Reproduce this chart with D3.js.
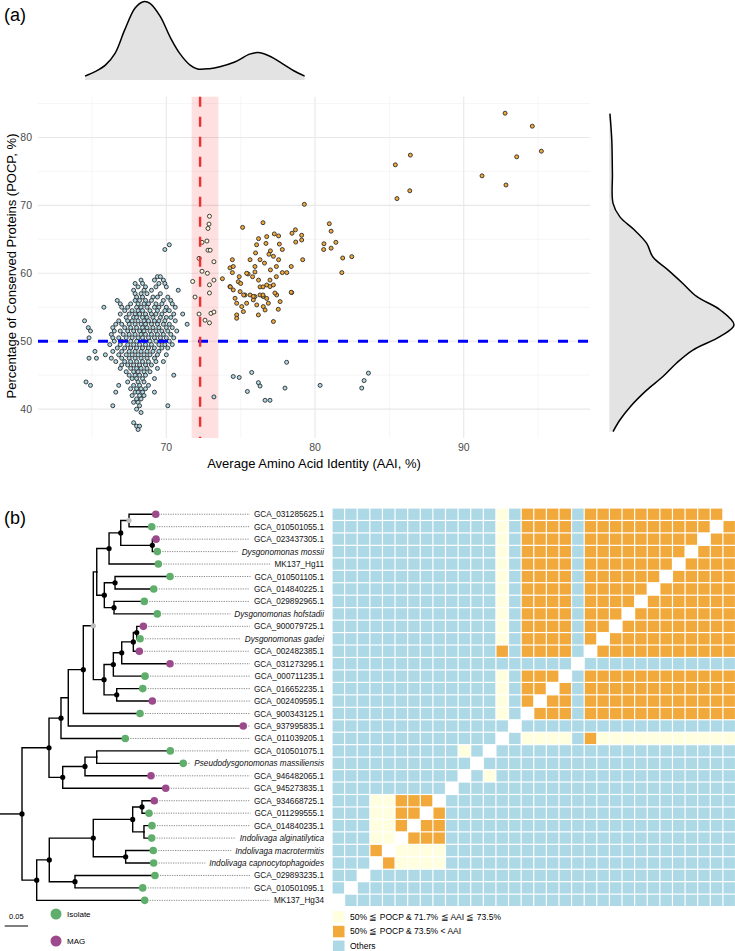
<!DOCTYPE html>
<html>
<head>
<meta charset="utf-8">
<script src="https://cdn.jsdelivr.net/npm/d3@7"></script>
<style>
  body { margin: 0; background: #fff; }
  text { font-family: "Liberation Sans", Arial, sans-serif; }
</style>
</head>
<body>
<svg id="fig" width="735" height="951"></svg>
<script>
// ---------------- data: panel (a) ----------------
// low AAI cluster, grouped by POCP level: [POCP, [AAI...]]
var lowAaiRows = [
  [64.2, [70.2]], [63.5, [69.9]],
  [59.5, [69.4, 69.6]], [59.0, [68.3, 69.2, 69.8]],
  [58.5, [67.9, 68.4, 69.5, 69.9]], [58.0, [68.1, 68.6, 69.3, 70.0]],
  [57.5, [67.8, 68.5, 69.0, 70.8]], [57.0, [67.9, 68.3, 68.7, 69.6]],
  [56.5, [68.0, 68.4, 69.1, 69.4, 70.1]], [56.0, [66.7, 67.9, 68.2, 68.6, 69.0, 69.8, 70.3]],
  [55.5, [66.9, 67.6, 68.1, 68.5, 68.8, 69.3, 69.7, 70.4]],
  [55.0, [65.8, 67.0, 67.4, 68.0, 68.3, 68.7, 69.2, 69.5, 70.0, 70.6]],
  [54.5, [67.2, 67.7, 68.1, 68.4, 68.9, 69.4, 69.9, 70.2]],
  [54.0, [66.9, 67.5, 67.9, 68.2, 68.6, 69.0, 69.3, 69.7, 70.5, 71.1]],
  [53.5, [67.3, 67.8, 68.0, 68.4, 68.7, 69.1, 69.6, 70.0, 70.3]],
  [53.0, [64.5, 66.8, 67.4, 67.7, 68.1, 68.5, 68.8, 69.2, 69.5, 69.9, 70.6]],
  [52.5, [66.6, 67.0, 67.5, 67.9, 68.3, 68.6, 69.0, 69.4, 69.8, 70.2, 71.4]],
  [52.0, [64.75, 66.4, 67.2, 67.6, 68.0, 68.4, 68.7, 69.1, 69.5, 70.0, 70.4]],
  [51.5, [64.9, 66.5, 66.9, 67.4, 67.8, 68.2, 68.5, 68.9, 69.3, 69.7, 70.1, 70.7]],
  [51.0, [66.3, 67.1, 67.5, 67.9, 68.3, 68.6, 69.0, 69.4, 69.8, 70.3]],
  [50.5, [64.8, 66.4, 66.8, 67.3, 67.7, 68.1, 68.4, 68.8, 69.2, 69.6, 70.0, 70.5]],
  [50.0, [66.5, 67.0, 67.6, 68.0, 68.5, 68.9, 69.3, 69.7, 70.2]],
  [49.5, [66.2, 66.9, 67.4, 67.8, 68.2, 68.6, 69.0, 69.5, 69.9, 70.4]],
  [49.0, [66.7, 67.2, 67.6, 68.0, 68.4, 68.8, 69.2, 69.7, 70.1]],
  [48.5, [65.2, 66.4, 67.0, 67.5, 67.9, 68.3, 68.7, 69.1, 69.5]],
  [48.0, [65.9, 66.8, 67.3, 67.7, 68.1, 68.5, 68.9, 69.4, 70.0]],
  [47.5, [64.8, 65.3, 66.3, 67.0, 67.5, 67.9, 68.3, 68.7, 69.2]],
  [47.0, [66.6, 67.2, 67.6, 68.0, 68.4, 68.8, 69.3, 69.8]],
  [46.5, [67.0, 67.4, 67.8, 68.2, 68.6, 69.0]],
  [46.0, [66.9, 67.6, 68.0, 68.3, 68.7, 69.4]],
  [45.5, [67.3, 67.8, 68.1, 68.5, 68.9]],
  [45.0, [67.5, 67.9, 68.2, 68.6, 70.5]],
  [44.5, [67.7, 68.0, 68.4, 69.2]],
  [44.0, [64.6, 67.4, 68.1, 68.5]],
  [43.5, [64.9, 66.8, 67.8, 68.2, 68.8]],
  [43.0, [67.6, 68.0, 68.3, 68.6]],
  [42.5, [66.6, 67.9, 68.1, 68.4, 69.2]],
  [42.0, [67.7, 68.2, 68.5]],
  [41.5, [68.0, 68.3]], [41.0, [67.8, 68.1]],
  [40.5, [66.4, 68.2, 70.1]], [40.0, [68.0]], [39.5, [68.3]],
  [38.0, [67.8]], [37.5, [68.0, 68.2]], [37.0, [68.1]]
];
// [AAI, POCP] pairs
var bandPts = [
  [71.77, 58.8], [71.93, 56.5], [72.2, 62.2], [72.4, 60.3], [72.4, 64.56], [72.73, 64.75],
  [72.8, 63.4], [72.95, 63.4], [72.87, 67.25], [72.8, 66.6], [72.9, 68.4], [72.76, 60.0],
  [72.9, 58.3], [72.9, 57.1], [73.2, 59.0], [73.2, 61.7], [72.2, 54.0], [72.6, 53.1],
  [72.9, 52.7], [73.0, 54.1], [73.2, 54.3], [73.2, 41.8]
];
var highAaiPts = [
  [74.28, 58.04], [74.5, 57.55], [74.84, 58.77], [75.29, 56.81], [75.63, 56.81], [75.96, 56.57],
  [76.3, 56.81], [76.52, 56.57], [76.75, 58.28], [76.97, 58.04], [77.2, 58.28], [77.42, 56.81],
  [78.43, 57.16], [74.62, 56.32], [74.73, 55.59], [75.07, 55.1], [75.4, 55.59], [75.85, 56.08],
  [76.08, 55.34], [76.52, 55.1], [76.86, 55.59], [77.65, 55.83], [74.73, 53.87], [74.73, 53.38],
  [75.18, 54.36], [76.19, 53.87], [76.64, 54.6], [77.53, 54.7], [77.2, 52.9],
  [75.13, 66.76], [76.5, 67.45], [76.2, 65.1], [76.07, 64.2], [76.75, 65.4], [76.7, 64.4],
  [77.26, 65.8], [77.55, 65.5], [77.0, 63.3], [77.2, 62.5], [77.55, 62.0], [77.8, 60.1],
  [78.1, 60.1], [78.4, 61.0], [78.4, 57.2], [78.68, 66.4], [78.45, 65.9], [79.1, 65.6],
  [79.1, 64.9], [78.7, 64.6], [79.17, 62.0], [79.28, 70.15], [80.96, 67.3], [81.08, 66.2],
  [81.4, 64.56], [80.6, 64.35], [80.58, 63.5], [81.08, 63.7], [82.47, 62.45], [81.86, 62.25],
  [81.8, 60.1], [74.44, 62.0], [74.28, 60.8], [74.5, 61.0], [74.44, 60.1], [74.3, 58.0],
  [75.63, 62.0], [75.5, 59.9], [75.4, 60.0], [74.9, 59.5], [75.8, 59.5], [75.96, 60.2],
  [75.96, 61.0], [76.3, 58.0], [76.5, 58.0], [75.85, 56.6], [76.5, 56.8], [76.75, 56.3],
  [76.97, 59.0], [77.3, 57.1], [77.4, 59.5], [77.4, 61.0], [74.96, 57.3], [75.2, 56.8],
  [73.77, 59.2], [76.0, 63.0], [76.3, 62.0], [76.6, 61.5], [77.0, 60.5], [76.2, 59.0],
  [75.0, 58.5], [77.8, 63.5], [76.9, 62.8], [77.6, 64.3],
  [92.78, 83.57], [94.61, 81.66], [95.22, 77.98], [93.56, 77.15], [91.23, 74.35], [92.84, 73.0],
  [86.41, 77.4], [85.4, 75.97], [86.37, 72.15], [85.51, 71.0],
  [74.5, 44.8], [74.9, 44.66], [75.74, 45.4], [75.45, 42.6], [76.19, 43.9], [76.3, 43.4],
  [76.64, 41.3], [76.97, 41.3], [77.98, 43.1], [78.09, 46.9], [80.34, 43.5], [83.14, 43.1],
  [83.3, 44.2], [83.59, 45.3]
];
var aaiDensX = [64.53, 65.2, 65.9, 66.55, 67.2, 67.9, 68.45, 68.9, 69.6, 70.25, 70.9, 71.6,
                72.1, 72.9, 73.6, 74.6, 75.6, 76.15, 77.0, 77.8, 78.6, 79.3];
var aaiDensY = [0.05, 0.106, 0.19, 0.34, 0.64, 0.92, 1.0, 0.98, 0.81, 0.55, 0.34, 0.19,
                0.14, 0.145, 0.17, 0.23, 0.33, 0.35, 0.30, 0.21, 0.115, 0.05];
var pocpDensX = [83.5, 79.6, 74.7, 70.3, 68.3, 66.4, 64.4, 62.4, 60.5, 58.5, 56.6, 54.6,
                 52.4, 50.7, 48.7, 46.8, 44.8, 42.8, 40.4, 38.4, 36.7];
var pocpDensY = [0.005, 0.02, 0.025, 0.03, 0.085, 0.2, 0.3, 0.35, 0.47, 0.59, 0.70, 0.89,
                 1.0, 0.89, 0.67, 0.54, 0.43, 0.30, 0.17, 0.085, 0.03];
var xMajor = [70, 80, 90], xMinor = [65, 75, 85, 95];
var yMajor = [40, 50, 60, 70, 80], yMinor = [45, 55, 65, 75, 85];
var aaiBand = [71.7, 73.5], aaiLine = 72.27, pocpLine = 50;

// ---------------- data: panel (b) ----------------
// node labels: b = black support dot, g = grey support dot
var treeNewick =
  "((((((((((GCA_031285625.1:0.0571,GCA_010501055.1:0.0485)g:0.0177," +
  "(GCA_023437305.1:0.0079,Dysgonomonas mossii:0.0107)b:0.0675)b:0.025," +
  "MK137_Hg11:0.1053)b:0.0263," +
  "((GCA_010501105.1:0.1175,GCA_014840225.1:0.0827)b:0.0229," +
  "(GCA_029892965.1:0.0647,Dysgonomonas hofstadii:0.0925)b:0.0207)b:0.0162):0.0073," +
  "(((((GCA_900079725.1:0.0141,Dysgonomonas gadei:0.0071)b:0.0073," +
  "GCA_002482385.1:0.0128)b:0.0248," +
  "GCA_031273295.1:0.1032)b:0.0179," +
  "GCA_000711235.1:0.0677)b:0.0199," +
  "(GCA_016652235.1:0.0556,GCA_002409595.1:0.0761)b:0.0271)b:0.0229)g:0.0214," +
  "GCA_900343125.1:0.1212)b:0.0321," +
  "GCA_937995835.1:0.3739):0.0156," +
  "GCA_011039205.1:0.1374)b:0.0256," +
  "(((GCA_010501075.1:0.1573,Pseudodysgonomonas massiliensis:0.185):0.025," +
  "GCA_946482065.1:0.141)b:0.0476," +
  "GCA_945273835.1:0.2201)b:0.0293)b:0.0577," +
  "(((((GCA_934668725.1:0.0263,GCA_011299555.1:0.015)b:0.0199," +
  "(GCA_014840235.1:0.0171,Indolivaga alginatilytica:0.0165):0.0241)b:0.0842," +
  "(Indolivaga macrotermitis:0.059,Indolivaga capnocytophagoides:0.0598)b:0.0692)b:0.094," +
  "(GCA_029893235.1:0.1709,GCA_010501095.1:0.1447)b:0.0549)b:0.0269," +
  "MK137_Hg34:0.2308)b:0.0314)b;";
// tip source, in leaf order (I = isolate, M = MAG)
var tipSource = ["M","I","M","I","I","I","I","I","I","M","I","M","M","I","I","M",
                 "I","M","I","I","I","M","M","M","I","I","I","I","I","I","I","I"];
// heatmap: one string per row (leaf order), columns in reverse leaf order
var heatRows = [
  "BBBBBBBBBBBBBYBOOOOBOOOOOOOOOOOW",
  "BBBBBBBBBBBBBYBOOOOBOOOOOOOOOOWO",
  "BBBBBBBBBBBBBYBOOOOBOOOOOOOOOWOO",
  "BBBBBBBBBBBBBYBOOOOBOOOOOOOOWOOO",
  "BBBBBBBBBBBBBYBOOOOBOOOOOOOWOOOO",
  "BBBBBBBBBBBBBYBOOOOBOOOOOOWOOOOO",
  "BBBBBBBBBBBBBYBOOOOBOOOOOWOOOOOO",
  "BBBBBBBBBBBBBYBOOOOBOOOOWOOOOOOO",
  "BBBBBBBBBBBBBYBOOOOBOOOWOOOOOOOO",
  "BBBBBBBBBBBBBYBOOOOBOOWOOOOOOOOO",
  "BBBBBBBBBBBBBYBOOOOBOWOOOOOOOOOO",
  "BBBBBBBBBBBBBOBOOOOBWOOOOOOOOOOO",
  "BBBBBBBBBBBBBBBBBBBWBBBBBBBBBBBB",
  "BBBBBBBBBBBBBYBOOOWBOOOOOOOOOOOO",
  "BBBBBBBBBBBBBYBOOWOBOOOOOOOOOOOO",
  "BBBBBBBBBBBBBYBOWOOBOOOOOOOOOOOO",
  "BBBBBBBBBBBBBYBWOOOBOOOOOOOOOOOO",
  "BBBBBBBBBBBBBBWBBBBBBBBBBBBBBBBB",
  "BBBBBBBBBBBBBWBYYYYBOYYYYYYYYYYY",
  "BBBBBBBBBBYBWBBBBBBBBBBBBBBBBBBB",
  "BBBBBBBBBBBWBBBBBBBBBBBBBBBBBBBB",
  "BBBBBBBBBBWBYBBBBBBBBBBBBBBBBBBB",
  "BBBBBBBBBWBBBBBBBBBBBBBBBBBBBBBB",
  "BBBYYOOOWBBBBBBBBBBBBBBBBBBBBBBB",
  "BBBYYOOWOBBBBBBBBBBBBBBBBBBBBBBB",
  "BBBYYOWOOBBBBBBBBBBBBBBBBBBBBBBB",
  "BBBYYWOOOBBBBBBBBBBBBBBBBBBBBBBB",
  "BBBOWYYYYBBBBBBBBBBBBBBBBBBBBBBB",
  "BBBWOYYYYBBBBBBBBBBBBBBBBBBBBBBB",
  "BBWBBBBBBBBBBBBBBBBBBBBBBBBBBBBB",
  "BWBBBBBBBBBBBBBBBBBBBBBBBBBBBBBB",
  "WBBBBBBBBBBBBBBBBBBBBBBBBBBBBBBB"
];
var heatLegend = [
  ["Y", "50% \u2266 POCP & 71.7% \u2266 AAI \u2266 73.5%"],
  ["O", "50% \u2266 POCP & 73.5% < AAI"],
  ["B", "Others"]
];
var heatColor = {Y: "#ffffe0", O: "#f2a93b", B: "#add8e6"};
var tipColor = {I: "#5fae6c", M: "#9c4a8b"};

// ---------------- drawing ----------------
var svg = d3.select("#fig");

// panel (a) scatter
var x = d3.scaleLinear().domain([61.37, 98.49]).range([38, 590]);
var y = d3.scaleLinear().domain([35.75, 86.0]).range([438, 96.7]);
var gA = svg.append("g");

gA.selectAll(".gxm").data(xMinor).enter().append("line")
  .attr("x1", d => x(d)).attr("x2", d => x(d)).attr("y1", y.range()[1]).attr("y2", y.range()[0])
  .attr("stroke", "#f0f0f0").attr("stroke-width", 0.6);
gA.selectAll(".gym").data(yMinor).enter().append("line")
  .attr("x1", x.range()[0]).attr("x2", x.range()[1]).attr("y1", d => y(d)).attr("y2", d => y(d))
  .attr("stroke", "#f0f0f0").attr("stroke-width", 0.6);
gA.selectAll(".gx").data(xMajor).enter().append("line")
  .attr("x1", d => x(d)).attr("x2", d => x(d)).attr("y1", y.range()[1]).attr("y2", y.range()[0])
  .attr("stroke", "#e8e8e8").attr("stroke-width", 1.1);
gA.selectAll(".gy").data(yMajor).enter().append("line")
  .attr("x1", x.range()[0]).attr("x2", x.range()[1]).attr("y1", d => y(d)).attr("y2", d => y(d))
  .attr("stroke", "#e8e8e8").attr("stroke-width", 1.1);

// threshold band
gA.append("rect")
  .attr("x", x(aaiBand[0])).attr("width", x(aaiBand[1]) - x(aaiBand[0]))
  .attr("y", y.range()[1]).attr("height", y.range()[0] - y.range()[1])
  .attr("fill", "#ff0000").attr("fill-opacity", 0.12);

// points
var pts = [];
lowAaiRows.forEach(function(r) { r[1].forEach(function(a) { pts.push([a, r[0]]); }); });
pts = pts.concat(bandPts, highAaiPts);
function pointFill(d) {
  if (d[1] >= 50 && d[0] >= aaiBand[0] && d[0] <= aaiBand[1]) return heatColor.Y;
  if (d[1] >= 50 && d[0] > aaiBand[1]) return heatColor.O;
  return heatColor.B;
}
gA.selectAll(".pt").data(pts).enter().append("circle")
  .attr("cx", d => x(d[0])).attr("cy", d => y(d[1])).attr("r", 2)
  .attr("fill", pointFill).attr("stroke", "#2b2b2b").attr("stroke-width", 0.9);

// dashed threshold lines
gA.append("line")
  .attr("x1", x.range()[0]).attr("x2", x.range()[1]).attr("y1", y(pocpLine)).attr("y2", y(pocpLine))
  .attr("stroke", "#0000ff").attr("stroke-width", 3).attr("stroke-dasharray", "10,10");
gA.append("line")
  .attr("x1", x(aaiLine)).attr("x2", x(aaiLine)).attr("y1", y.range()[1]).attr("y2", y.range()[0])
  .attr("stroke", "#f03030").attr("stroke-width", 2.4).attr("stroke-dasharray", "10,10");

// axes text
gA.selectAll(".xt").data(xMajor).enter().append("text")
  .attr("x", d => x(d)).attr("y", 451).attr("text-anchor", "middle")
  .attr("font-size", 10.5).attr("fill", "#4d4d4d").text(d => d);
gA.selectAll(".yt").data(yMajor).enter().append("text")
  .attr("x", 32).attr("y", d => y(d) + 3.8).attr("text-anchor", "end")
  .attr("font-size", 10.5).attr("fill", "#4d4d4d").text(d => d);
gA.append("text").attr("x", 314).attr("y", 468).attr("text-anchor", "middle")
  .attr("font-size", 13).text("Average Amino Acid Identity (AAI, %)");
gA.append("text").attr("transform", "translate(16,266) rotate(-90)").attr("text-anchor", "middle")
  .attr("font-size", 13).text("Percentage of Conserved Proteins (POCP, %)");

// marginal densities
var dTop = d3.scaleLinear().domain([0, 1]).range([80, 1.7]);
var topD = aaiDensX.map((a, i) => [a, aaiDensY[i]]);
gA.append("path").datum(topD)
  .attr("d", d3.area().x(d => x(d[0])).y0(dTop(0)).y1(d => dTop(d[1])).curve(d3.curveCatmullRom))
  .attr("fill", "#e3e3e3");
gA.append("path").datum(topD)
  .attr("d", d3.line().x(d => x(d[0])).y(d => dTop(d[1])).curve(d3.curveCatmullRom))
  .attr("fill", "none").attr("stroke", "#000").attr("stroke-width", 1.5);

var dRight = d3.scaleLinear().domain([0, 1]).range([609.3, 734]);
var rightD = pocpDensX.map((p, i) => [p, pocpDensY[i]]);
gA.append("path").datum(rightD)
  .attr("d", d3.area().y(d => y(d[0])).x0(dRight(0)).x1(d => dRight(d[1])).curve(d3.curveCatmullRom))
  .attr("fill", "#e3e3e3");
gA.append("path").datum(rightD)
  .attr("d", d3.line().y(d => y(d[0])).x(d => dRight(d[1])).curve(d3.curveCatmullRom))
  .attr("fill", "none").attr("stroke", "#000").attr("stroke-width", 1.5);

svg.append("text").attr("x", 4).attr("y", 21).attr("font-size", 18).text("(a)");
svg.append("text").attr("x", 4).attr("y", 524).attr("font-size", 18).text("(b)");

// panel (b) tree
function parseNewick(s) {
  var ancestors = [], tree = {}, tokens = s.split(/\s*(;|\(|\)|,|:)\s*/);
  for (var i = 0; i < tokens.length; i++) {
    var t = tokens[i], sub;
    switch (t) {
      case "(": sub = {}; tree.children = [sub]; ancestors.push(tree); tree = sub; break;
      case ",": sub = {}; ancestors[ancestors.length - 1].children.push(sub); tree = sub; break;
      case ")": tree = ancestors.pop(); break;
      case ":": break;
      default:
        var prev = tokens[i - 1];
        if (prev == ")" || prev == "(" || prev == ",") tree.name = t;
        else if (prev == ":") tree.length = parseFloat(t);
    }
  }
  return tree;
}

var root = d3.hierarchy(parseNewick(treeNewick));
var leaves = root.leaves();
var rowBand = d3.scaleBand().domain(d3.range(leaves.length)).range([508, 906.6]);
var colBand = d3.scaleBand().domain(d3.range(leaves.length)).range([332, 735.5]);
var xt = d3.scaleLinear().domain([0, 0.05]).range([22, 45.4]);

root.eachBefore(function(d) { d.len = d.parent ? d.parent.len + (d.data.length || 0) : 0; });
leaves.forEach(function(d, i) { d.row = i; d.yy = rowBand(i) + rowBand.bandwidth() / 2; });
root.eachAfter(function(d) { if (d.children) d.yy = d3.mean(d.children, c => c.yy); });

var gB = svg.append("g");
// root stub
gB.append("line").attr("x1", 0).attr("x2", xt(0)).attr("y1", root.yy).attr("y2", root.yy)
  .attr("stroke", "#000").attr("stroke-width", 1.4);
gB.selectAll(".br").data(root.descendants().filter(d => d.parent)).enter().append("path")
  .attr("d", d => "M" + xt(d.parent.len) + "," + d.parent.yy + "V" + d.yy + "H" + xt(d.len))
  .attr("fill", "none").attr("stroke", "#000").attr("stroke-width", 1.4)
  .attr("stroke-linecap", "square");

// tip labels and dotted leaders
var labelEnd = 324;
leaves.forEach(function(d) {
  var nm = d.data.name;
  var italic = !(nm.indexOf("GCA_") === 0 || nm.indexOf("MK137") === 0);
  var t = gB.append("text").attr("x", labelEnd).attr("y", d.yy + 3)
    .attr("text-anchor", "end").attr("font-size", 8.2).attr("fill", "#111")
    .attr("font-style", italic ? "italic" : "normal").text(nm);
  var w = t.node().getComputedTextLength();
  gB.append("line").attr("x1", xt(d.len) + 5).attr("x2", labelEnd - w - 4)
    .attr("y1", d.yy).attr("y2", d.yy)
    .attr("stroke", "#555").attr("stroke-width", 0.7).attr("stroke-dasharray", "1.2,1.2");
});

// support dots
gB.selectAll(".sp").data(root.descendants().filter(d => d.children && (d.data.name == "b" || d.data.name == "g")))
  .enter().append("circle")
  .attr("cx", d => xt(d.len)).attr("cy", d => d.yy).attr("r", 2.6)
  .attr("fill", d => d.data.name == "g" ? "#bdbdbd" : "#000");

// tip points
gB.selectAll(".tip").data(leaves).enter().append("circle")
  .attr("cx", d => xt(d.len)).attr("cy", d => d.yy).attr("r", 3.8)
  .attr("fill", (d, i) => tipColor[tipSource[i]]);

// heatmap
var cells = [];
heatRows.forEach(function(row, r) {
  for (var c = 0; c < row.length; c++) if (row[c] != "W") cells.push({r: r, c: c, k: row[c]});
});
var cw = colBand.bandwidth(), ch = rowBand.bandwidth();
gB.selectAll(".cell").data(cells).enter().append("rect")
  .attr("x", d => colBand(d.c) + 0.6).attr("y", d => rowBand(d.r) + 0.6)
  .attr("width", cw - 1.2).attr("height", ch - 1.2)
  .attr("fill", d => heatColor[d.k]);

// scale bar
gB.append("line").attr("x1", 4.7).attr("x2", 4.7 + xt(0.05) - xt(0)).attr("y1", 926).attr("y2", 926)
  .attr("stroke", "#000").attr("stroke-width", 1);
gB.append("text").attr("x", 4.7 + (xt(0.05) - xt(0)) / 2).attr("y", 919).attr("text-anchor", "middle")
  .attr("font-size", 7.5).text("0.05");

// tip legend
[["I", "Isolate", 914], ["M", "MAG", 941]].forEach(function(l) {
  gB.append("circle").attr("cx", 56).attr("cy", l[2]).attr("r", 5.5).attr("fill", tipColor[l[0]]);
  gB.append("text").attr("x", 67).attr("y", l[2] + 3).attr("font-size", 8).text(l[1]);
});

// heatmap legend
heatLegend.forEach(function(l, i) {
  var yy = 911 + i * 14.8;
  gB.append("rect").attr("x", 333).attr("y", yy).attr("width", 11.5).attr("height", 11.5)
    .attr("fill", heatColor[l[0]]);
  gB.append("text").attr("x", 350).attr("y", yy + 8.5).attr("font-size", 8.5).text(l[1]);
});
</script>
</body>
</html>
